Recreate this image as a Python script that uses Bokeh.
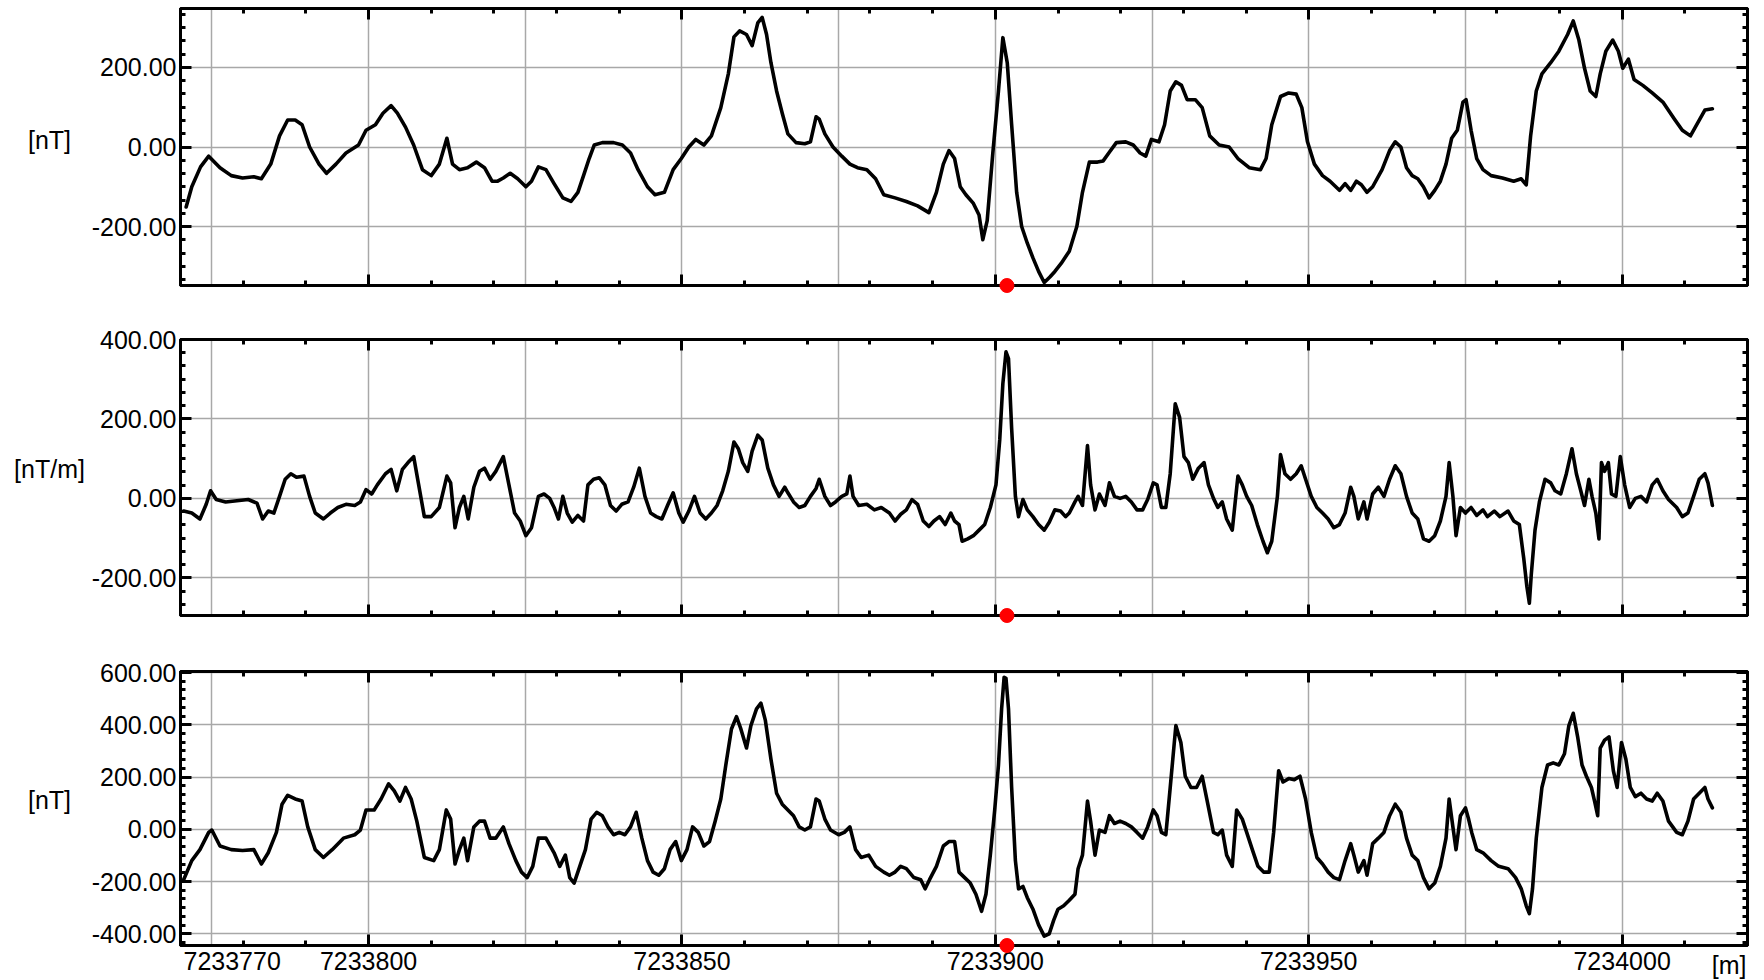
from bokeh.plotting import figure
from bokeh.models import (ColumnDataSource, FixedTicker, LinearAxis, Grid,
                          Range1d, PrintfTickFormatter, CustomJSTickFormatter)
from bokeh.core.properties import value
from bokeh.layouts import column
from bokeh.embed import file_html
from bokeh.resources import INLINE

# Profile extent (northing, m) and the picked station
LINE_START = 7233770.0
LINE_END = 7234020.0
MARKER_N = 7233901.85

x_major = [7233800, 7233850, 7233900, 7233950, 7234000]
x_grid = [7233775, 7233800, 7233825, 7233850, 7233875, 7233900,
          7233925, 7233950, 7233975, 7234000]

# Total magnetic intensity [nT]; distance along line from LINE_START [m]
tmi_d = [0.9, 1.8, 3.2, 4.5, 6.3, 8.1, 9.9, 11.7, 12.9, 14.4, 15.8, 17.1, 18.3, 19.4,
         20.6, 22.1, 23.3, 24.8, 26.4, 28.4, 29.6, 31.1, 32.3, 33.6, 34.6, 35.9, 37.2,
         38.6, 40.0, 41.3, 42.5, 43.4, 44.5, 45.8, 47.2, 48.5, 49.7, 50.6, 51.5, 52.6,
         53.8, 55.1, 56.0, 57.1, 58.3, 59.6, 61.0, 62.3, 63.4, 64.3, 65.2, 66.0, 67.3,
         69.1, 70.5, 71.8, 73.0, 74.5, 75.7, 77.2, 78.6, 79.9, 81.1, 82.2, 83.5, 84.7,
         86.2, 87.4, 88.3, 89.2, 90.3, 91.2, 92.1, 92.8, 93.5, 94.2, 95.1, 96.0, 96.9,
         98.2, 99.6, 100.5, 101.4, 101.9, 102.8, 104.1, 105.5, 106.8, 108.0, 109.5,
         110.9, 112.2, 114.0, 115.8, 117.6, 119.4, 120.6, 121.7, 122.6, 123.5, 124.4,
         125.3, 126.5, 127.4, 128.0, 128.7, 129.6, 130.5, 131.2, 131.9, 132.6, 133.4,
         134.2, 135.1, 136.0, 136.9, 137.8, 138.7, 139.5, 140.5, 141.8, 143.0, 143.9,
         145.0, 146.3, 147.2, 148.1, 149.3, 150.8, 152.0, 153.1, 154.0, 154.9, 156.1,
         157.0, 157.9, 158.8, 159.7, 160.6, 161.9, 163.0, 164.2, 165.7, 167.3, 168.7,
         170.5, 172.3, 173.2, 174.1, 175.5, 176.8, 178.0, 178.9, 179.8, 180.9, 182.2,
         183.4, 184.9, 185.8, 186.7, 187.6, 188.4, 189.3, 190.2, 191.7, 192.9, 193.8,
         194.7, 195.6, 196.5, 197.4, 198.3, 199.2, 200.1, 201.0, 201.9, 202.8, 203.7,
         204.6, 205.1, 205.9, 206.8, 207.8, 209.1, 210.9, 212.7, 213.9, 214.7, 215.4,
         216.3, 217.2, 218.6, 219.9, 221.3, 222.2, 223.1, 224.0, 224.9, 225.8, 226.5,
         227.4, 228.5, 229.4, 230.1, 231.0, 231.9, 233.3, 234.8, 236.5, 238.3, 239.6,
         240.9, 241.9, 243.2, 244.4]
tmi_v = [-151, -100, -50, -23, -52, -72, -78, -75, -80, -43, 28, 68, 68, 56,
         0, -43, -66, -43, -15, 5, 42, 56, 85, 104, 85, 50, 5,
         -57, -72, -43, 22, -43, -57, -52, -38, -52, -86, -86, -78, -66,
         -80, -100, -86, -50, -57, -92, -128, -137, -114, -72, -29, 5, 11,
         11, 5, -15, -57, -100, -120, -114, -57, -29, 0, 19, 5, 28,
         99, 184, 277, 292, 283, 255, 312, 326, 283, 212, 141, 85, 33,
         11, 8, 13, 76, 70, 33, 0, -23, -43, -52, -57,
         -80, -120, -128, -137, -148, -165, -114, -43, -9, -29, -100,
         -120, -142, -171, -233, -185, -15, 141, 275, 212, 56, -114,
         -200, -242, -279, -313, -341, -327, -313, -293, -262, -200, -114,
         -38, -38, -35, -15, 11, 13, 5, -15, -23, 19, 13,
         56, 141, 164, 155, 119, 119, 99, 28, 5, 0, -29,
         -52, -57, -29, 56, 127, 136, 133, 99, 13, -43, -72,
         -86, -109, -92, -109, -86, -95, -114, -100, -57, -9, 13,
         0, -52, -72, -80, -100, -128, -109, -86, -43, 22, 42,
         113, 119, 42, -29, -57, -72, -78, -86, -80, -95, 28,
         141, 184, 212, 241, 283, 317, 269, 198, 141, 127, 184,
         241, 269, 241, 198, 221, 170, 155, 136, 113, 71, 42,
         28, 56, 93, 96]

# Horizontal gradient [nT/m]
grad_d = [0.5, 1.8, 3.1, 4.1, 4.8, 5.7, 7.2, 9.0, 10.8, 12.2, 13.1, 14.0, 14.9, 15.8,
          16.7, 17.6, 18.5, 19.7, 20.6, 21.5, 22.8, 23.9, 25.1, 26.4, 27.8, 28.7, 29.6,
          30.5, 31.4, 32.7, 33.6, 34.5, 35.4, 36.3, 37.2, 38.0, 38.9, 40.0, 41.3, 42.5,
          43.1, 43.8, 44.5, 45.2, 45.9, 46.8, 47.7, 48.5, 49.4, 50.3, 51.5, 52.4, 53.3,
          54.2, 55.1, 56.0, 57.1, 58.0, 58.9, 59.6, 60.3, 61.0, 61.7, 62.5, 63.4, 64.3,
          65.0, 65.9, 66.8, 67.7, 68.6, 69.5, 70.4, 71.4, 72.3, 73.2, 74.1, 75.0, 75.9,
          76.8, 77.7, 78.6, 79.5, 80.2, 81.1, 82.0, 82.9, 83.8, 84.7, 85.6, 86.5, 87.4,
          88.3, 89.0, 89.7, 90.5, 91.2, 92.1, 92.8, 93.7, 94.6, 95.5, 96.4, 96.9, 97.8,
          98.7, 99.6, 100.5, 101.4, 101.9, 102.8, 103.7, 104.5, 105.5, 106.3, 106.8,
          107.3, 108.2, 109.5, 110.7, 111.8, 113.1, 114.0, 114.9, 115.8, 116.7, 117.6,
          118.5, 119.4, 120.2, 121.1, 122.0, 122.9, 123.5, 124.2, 124.7, 125.6, 126.5,
          127.4, 128.3, 129.2, 130.1, 130.7, 131.2, 131.7, 132.1, 132.6, 133.2, 133.7,
          134.4, 135.1, 136.0, 136.9, 137.8, 138.6, 139.5, 140.4, 141.2, 141.8, 142.7,
          143.2, 143.9, 144.7, 145.2, 145.9, 146.6, 147.5, 148.2, 149.0, 149.9, 150.8,
          151.7, 152.6, 153.5, 154.3, 155.2, 155.8, 156.5, 157.2, 157.9, 158.7, 159.4,
          160.1, 160.8, 161.5, 162.4, 163.3, 164.0, 164.8, 165.5, 166.2, 166.9, 167.8,
          168.7, 169.4, 170.1, 170.9, 171.8, 172.7, 173.4, 174.1, 175.0, 175.5, 176.2,
          177.1, 178.0, 178.8, 179.5, 180.4, 181.3, 182.2, 183.1, 184.0, 184.9, 185.8,
          186.7, 187.2, 187.9, 188.8, 189.3, 190.2, 191.1, 192.0, 192.9, 193.8, 194.7,
          195.6, 196.5, 197.4, 198.3, 199.2, 200.1, 201.0, 201.9, 202.4, 203.0, 203.5,
          204.2, 205.0, 205.9, 206.8, 207.8, 208.5, 209.6, 210.5, 211.8, 212.7, 213.6,
          214.3, 214.8, 215.2, 215.5, 216.1, 216.8, 217.7, 218.6, 219.3, 220.2, 221.1,
          222.0, 222.7, 223.4, 224.0, 224.7, 225.2, 225.8, 226.3, 226.7, 227.2, 227.8,
          228.3, 229.0, 229.7, 230.4, 231.2, 232.1, 233.0, 233.9, 234.8, 235.6, 236.5,
          237.4, 238.7, 239.6, 240.5, 241.4, 242.3, 243.2, 243.7, 244.4]
grad_v = [-32, -37, -52, -15, 19, -3, -9, -6, -3, -12, -52, -32, -37, 5,
          48, 62, 53, 56, 5, -37, -52, -37, -23, -15, -18, -9, 22,
          11, 34, 62, 73, 19, 73, 90, 105, 34, -46, -46, -23, 56,
          39, -74, -23, 5, -52, 28, 68, 76, 48, 68, 105, 34, -37,
          -57, -94, -74, 5, 11, 0, -23, -52, 5, -37, -60, -43, -57,
          34, 48, 52, 34, -18, -32, -15, -9, 28, 76, 5, -37, -46,
          -52, -18, 14, -37, -60, -32, 5, -37, -52, -37, -18, 19, 68,
          142, 125, 90, 68, 119, 159, 147, 76, 34, 5, 28, 14, -9,
          -23, -18, 5, 25, 48, 5, -18, -9, 5, 11, 56,
          5, -18, -15, -29, -23, -37, -57, -40, -29, -3, -15,
          -57, -71, -57, -46, -66, -37, -57, -66, -108, -102, -94,
          -80, -66, -23, 34, 147, 289, 369, 352, 176, 5, -46,
          -3, -29, -46, -66, -80, -60, -29, -32, -46, -37, -9,
          5, -18, 133, 34, -29, 11, -18, 39, 5, 0, 5,
          -9, -29, -29, -3, 39, 34, -23, -23, 62, 238, 204,
          105, 90, 48, 76, 90, 34, 0, -23, -9, -52, -80,
          56, 34, 5, -18, -66, -108, -137, -108, 5, 110, 62,
          48, 62, 82, 48, 5, -23, -37, -52, -74, -66, -37,
          28, 5, -52, -9, -52, 11, 28, 5, 48, 82, 62,
          5, -37, -52, -102, -108, -94, -57, 5, 90, 5, -94,
          -23, -37, -23, -43, -29, -46, -32, -46, -32, -57, -66,
          -151, -222, -264, -193, -80, -9, 48, 39, 19, 11, 62,
          125, 62, 19, -18, 48, 5, -37, -102, 90, 68, 90,
          11, 5, 105, 34, -23, 0, 5, -9, 34, 48, 19,
          -3, -23, -46, -37, 5, 48, 62, 39, -18]

# Combined response [nT]
sum_d = [0.5, 1.8, 3.1, 4.5, 5.0, 6.3, 8.1, 9.9, 11.7, 12.9, 14.0, 15.3, 16.2, 17.1,
         18.3, 19.4, 20.3, 21.5, 22.8, 24.2, 26.0, 27.8, 28.7, 29.6, 30.9, 32.0, 33.2,
         34.1, 35.0, 35.9, 36.8, 37.7, 38.9, 40.4, 41.3, 42.4, 43.1, 43.8, 44.5, 45.2,
         45.8, 46.8, 47.7, 48.5, 49.4, 50.3, 51.5, 52.4, 53.5, 54.4, 55.3, 56.2, 57.1,
         58.3, 59.6, 60.5, 61.4, 62.1, 62.8, 63.7, 64.6, 65.5, 66.4, 67.3, 68.2, 69.1,
         70.0, 70.9, 71.8, 72.7, 73.6, 74.5, 75.4, 76.3, 77.2, 78.1, 79.0, 79.9, 80.8,
         81.7, 82.6, 83.5, 84.4, 85.3, 86.2, 87.0, 87.9, 88.7, 89.4, 90.3, 91.0, 91.9,
         92.6, 93.3, 94.2, 95.1, 96.0, 96.9, 97.8, 98.7, 99.6, 100.5, 101.4, 101.9,
         102.8, 103.7, 105.0, 105.9, 106.8, 107.7, 108.6, 109.8, 110.9, 112.2, 113.1,
         114.0, 114.9, 115.8, 117.0, 118.1, 118.8, 119.5, 120.6, 121.7, 122.6, 123.5,
         124.2, 125.1, 126.0, 126.9, 127.8, 128.5, 129.2, 129.9, 130.5, 131.0, 131.4,
         131.7, 132.1, 132.6, 133.2, 133.7, 134.4, 135.1, 136.0, 136.9, 137.8, 138.6,
         139.3, 140.0, 140.9, 141.8, 142.7, 143.2, 143.9, 144.7, 145.2, 145.9, 146.6,
         147.5, 148.2, 149.0, 149.9, 150.8, 151.7, 152.6, 153.5, 154.3, 155.2, 155.8,
         156.5, 157.2, 157.9, 158.8, 159.6, 160.3, 161.2, 162.1, 163.0, 163.9, 164.8,
         165.5, 166.2, 166.9, 167.8, 168.5, 169.4, 170.1, 171.0, 171.9, 172.8, 173.7,
         174.4, 175.2, 175.9, 176.8, 177.7, 178.6, 179.5, 180.4, 181.3, 182.2, 183.1,
         184.0, 184.9, 185.8, 186.7, 187.2, 187.9, 188.8, 189.3, 190.2, 191.1, 192.0,
         192.9, 193.8, 194.7, 195.6, 196.5, 197.4, 198.3, 199.2, 200.1, 201.0, 201.9,
         202.4, 203.0, 203.5, 204.2, 205.0, 205.5, 206.0, 206.8, 207.8, 209.1, 210.3,
         211.8, 213.0, 213.9, 214.7, 215.2, 215.7, 216.3, 217.2, 218.1, 219.0, 219.9,
         220.8, 221.5, 222.2, 222.9, 223.6, 224.3, 225.1, 225.6, 226.1, 226.5, 227.2,
         227.9, 228.6, 229.2, 229.9, 230.6, 231.3, 232.1, 233.0, 233.9, 234.8, 235.6,
         236.5, 237.4, 238.7, 239.6, 240.5, 241.4, 242.3, 243.2, 243.7, 244.4]
sum_v = [-193, -120, -78, -12, -3, -64, -78, -81, -78, -133, -90, -12, 96, 130,
         116, 108, 9, -78, -108, -78, -34, -21, -3, 74, 74, 116, 174,
         147, 108, 160, 116, 31, -108, -120, -78, 74, 39, -133, -78, -34,
         -120, 9, 31, 31, -34, -34, 9, -55, -120, -164, -185, -142, -34,
         -34, -90, -142, -99, -185, -206, -142, -78, 39, 65, 52, 9, -21,
         -12, -21, 9, 65, -34, -120, -164, -176, -151, -78, -47, -120, -78,
         9, -12, -64, -47, 31, 116, 246, 384, 431, 384, 311, 397, 461,
         483, 418, 268, 138, 96, 74, 52, 9, -3, 9, 116, 108,
         39, -3, -21, -12, 9, -78, -108, -99, -142, -164, -176,
         -164, -142, -151, -185, -193, -228, -193, -142, -64, -47, -47,
         -164, -185, -206, -249, -314, -249, -99, 74, 246, 461, 582,
         578, 461, 160, -120, -228, -219, -262, -306, -366, -409, -400,
         -349, -306, -293, -272, -249, -151, -99, 108, 31, -99, -3,
         -12, 52, 22, 31, 22, 9, -12, -34, 9, 74, 52,
         -12, -21, 160, 397, 332, 203, 160, 160, 203, 96, -12,
         -21, -3, -99, -142, 74, 39, -12, -78, -142, -164, -164,
         -12, 224, 181, 194, 190, 203, 116, -12, -108, -133, -164,
         -185, -193, -120, -55, -99, -164, -120, -176, -55, -34, -12,
         52, 96, 65, -34, -99, -120, -185, -228, -206, -142, -34,
         116, 9, -78, 52, 82, 39, -12, -78, -90, -120, -142,
         -151, -185, -228, -293, -323, -228, -34, 160, 246, 254, 246,
         289, 397, 444, 354, 246, 203, 160, 108, 52, 311, 341,
         354, 224, 160, 332, 268, 160, 125, 138, 116, 108, 138,
         108, 31, -12, -21, 31, 116, 138, 160, 116, 82]

FONT = "Liberation Sans"
GRID_COLOR = "#a8a8a8"

# tick-only frame sides carry no labels at all
NO_LABELS = CustomJSTickFormatter(code="return ''")


def style_axis(axis, show_labels):
    axis.axis_line_color = "black"
    axis.axis_line_width = 3
    axis.major_tick_in = 11
    axis.major_tick_out = 0
    axis.minor_tick_in = 5
    axis.minor_tick_out = 0
    axis.major_tick_line_width = 3
    axis.minor_tick_line_width = 3
    axis.major_tick_line_color = "black"
    axis.minor_tick_line_color = "black"
    axis.major_label_text_font = FONT
    axis.major_label_text_color = "black"
    axis.major_label_text_font_size = "25px"
    if show_labels:
        axis.major_label_standoff = 6
    else:
        axis.formatter = NO_LABELS
        axis.major_label_standoff = 0


def add_text(p, x, y, text, align, baseline, dx, dy):
    # free-standing text placed next to the frame (screen offsets in px)
    p.text(x=[x], y=[y], text=[text], x_offset=dx, y_offset=dy,
           text_align=align, text_baseline=baseline,
           text_font=value(FONT), text_font_size=value("25px"),
           text_color="black", level="overlay")


def make_panel(dist, vals, y_lo, y_hi, y_major, unit, unit_y, frame_h,
               b_top, b_bottom, x_labels):
    p = figure(frame_width=1567, frame_height=frame_h,
               x_range=Range1d(LINE_START, LINE_END), y_range=Range1d(y_lo, y_hi),
               x_axis_type=None, y_axis_type=None,
               output_backend="svg", toolbar_location=None,
               min_border_left=180, min_border_right=17,
               min_border_top=b_top, min_border_bottom=b_bottom)
    p.outline_line_color = "black"
    p.outline_line_width = 3
    p.outline_line_alpha = 1.0
    p.background_fill_color = "white"
    p.border_fill_color = "white"

    step = 200.0 / 6.0
    y_minor = [k * step for k in range(-24, 25) if y_lo <= k * step <= y_hi]
    x_minor = list(range(int(LINE_START), int(LINE_END) + 1, 10))

    y_ticker = FixedTicker(ticks=y_major, minor_ticks=y_minor)
    x_ticker = FixedTicker(ticks=x_major, minor_ticks=x_minor)

    p.add_layout(Grid(dimension=0, ticker=FixedTicker(ticks=x_grid),
                      grid_line_color=GRID_COLOR, grid_line_width=1.5))
    p.add_layout(Grid(dimension=1, ticker=FixedTicker(ticks=y_major),
                      grid_line_color=GRID_COLOR, grid_line_width=1.5))

    left = LinearAxis(ticker=y_ticker, formatter=PrintfTickFormatter(format="%.2f"))
    style_axis(left, True)
    left.major_label_standoff = 4
    right = LinearAxis(ticker=y_ticker)
    style_axis(right, False)
    above = LinearAxis(ticker=x_ticker)
    style_axis(above, False)
    below = LinearAxis(ticker=x_ticker, formatter=PrintfTickFormatter(format="%d"))
    style_axis(below, x_labels)
    p.add_layout(left, "left")
    p.add_layout(right, "right")
    p.add_layout(above, "above")
    p.add_layout(below, "below")

    xs = [LINE_START + d for d in dist]
    src = ColumnDataSource(data=dict(x=xs, y=vals))
    p.line("x", "y", source=src, line_color="black", line_width=3.6,
           line_join="round", line_cap="round")

    p.scatter([MARKER_N], [y_lo], size=14, fill_color="#ff0000",
              line_color="#ff0000", level="overlay")

    add_text(p, LINE_START, unit_y, unit, "center", "middle", -131, 0)

    if x_labels:
        add_text(p, LINE_START, y_lo, "7233770", "left", "top", 3, 6)
        add_text(p, LINE_END, y_lo, "[m]", "right", "top", -1, 5)
    return p


p1 = make_panel(tmi_d, tmi_v, -348.4, 348.4, [-200, 0, 200], "[nT]", 18,
                277, 8, 27, False)
p2 = make_panel(grad_d, grad_v, -295, 400, [-200, 0, 200, 400], "[nT/m]", 73,
                276, 27, 28, False)
p3 = make_panel(sum_d, sum_v, -445, 604, [-400, -200, 0, 200, 400, 600], "[nT]", 112,
                274, 28, 35, True)

layout = column(p1, p2, p3, spacing=0)

open("out.html", "w").write(file_html(layout, INLINE))
